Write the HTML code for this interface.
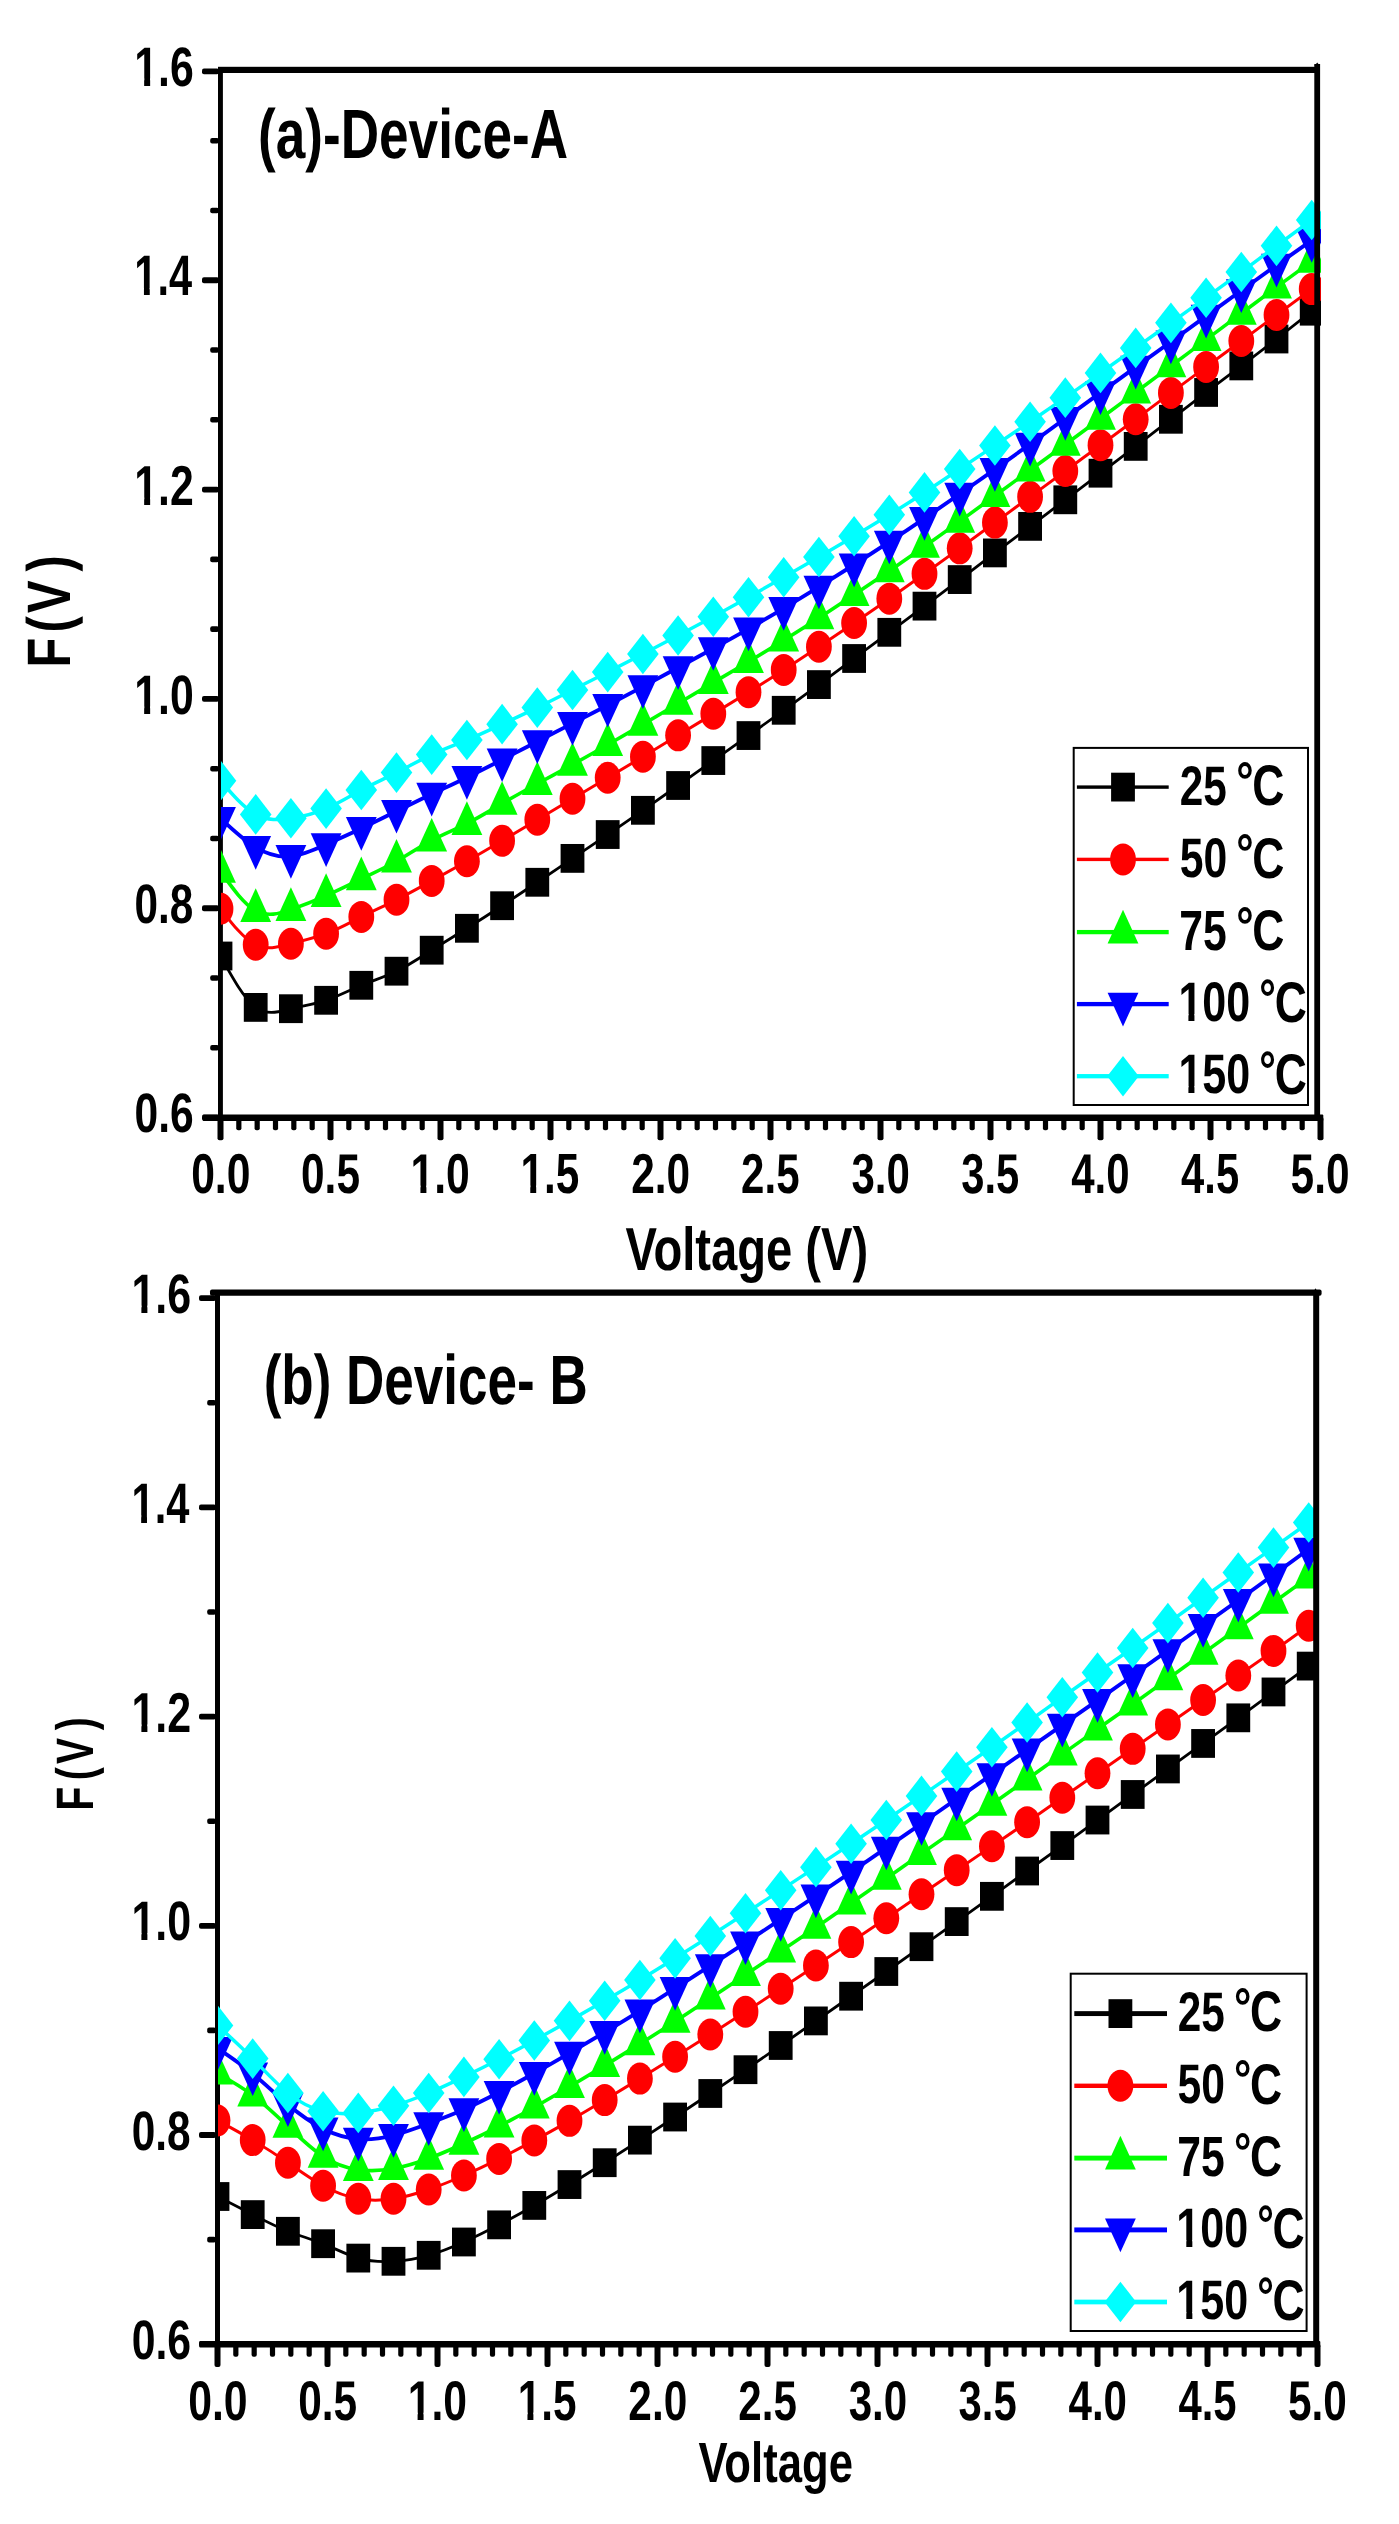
<!DOCTYPE html>
<html><head><meta charset="utf-8"><title>F(V) vs Voltage</title>
<style>html,body{margin:0;padding:0;background:#fff;overflow:hidden}svg{display:block;will-change:transform}text{white-space:pre}</style></head>
<body>
<svg width="1399" height="2524" viewBox="0 0 1399 2524" font-family="'Liberation Sans', sans-serif" font-weight="bold" fill="#000" text-rendering="geometricPrecision">
<defs><clipPath id="ca"><rect x="220.9" y="60" width="1100.1" height="1060"/></clipPath><clipPath id="cb"><rect x="218" y="1285" width="1099" height="1060"/></clipPath></defs>
<rect width="1399" height="2524" fill="#fff"/>
<g><rect x="218" y="67" width="4.9" height="1054"/><rect x="202.6" y="1114.4" width="1120.7" height="6.5" rx="1"/><rect x="202" y="1114.7" width="17" height="5.8" rx="2"/><rect x="210.2" y="1045.02" width="8.8" height="5.6" rx="2"/><rect x="210.2" y="975.24" width="8.8" height="5.6" rx="2"/><rect x="202" y="905.36" width="17" height="5.8" rx="2"/><rect x="210.2" y="835.68" width="8.8" height="5.6" rx="2"/><rect x="210.2" y="765.9" width="8.8" height="5.6" rx="2"/><rect x="202" y="696.02" width="17" height="5.8" rx="2"/><rect x="210.2" y="626.34" width="8.8" height="5.6" rx="2"/><rect x="210.2" y="556.56" width="8.8" height="5.6" rx="2"/><rect x="202" y="486.68" width="17" height="5.8" rx="2"/><rect x="210.2" y="417" width="8.8" height="5.6" rx="2"/><rect x="210.2" y="347.22" width="8.8" height="5.6" rx="2"/><rect x="202" y="277.34" width="17" height="5.8" rx="2"/><rect x="210.2" y="207.66" width="8.8" height="5.6" rx="2"/><rect x="210.2" y="137.88" width="8.8" height="5.6" rx="2"/><rect x="202" y="68.5" width="17" height="5.8" rx="2"/><rect x="217.5" y="1117" width="6" height="23.3" rx="2"/><rect x="236.23" y="1117" width="5.2" height="13.3" rx="2"/><rect x="254.57" y="1117" width="5.2" height="13.3" rx="2"/><rect x="272.9" y="1117" width="5.2" height="13.3" rx="2"/><rect x="291.23" y="1117" width="5.2" height="13.3" rx="2"/><rect x="309.57" y="1117" width="5.2" height="13.3" rx="2"/><rect x="327.5" y="1117" width="6" height="23.3" rx="2"/><rect x="346.23" y="1117" width="5.2" height="13.3" rx="2"/><rect x="364.57" y="1117" width="5.2" height="13.3" rx="2"/><rect x="382.9" y="1117" width="5.2" height="13.3" rx="2"/><rect x="401.23" y="1117" width="5.2" height="13.3" rx="2"/><rect x="419.57" y="1117" width="5.2" height="13.3" rx="2"/><rect x="437.5" y="1117" width="6" height="23.3" rx="2"/><rect x="456.23" y="1117" width="5.2" height="13.3" rx="2"/><rect x="474.57" y="1117" width="5.2" height="13.3" rx="2"/><rect x="492.9" y="1117" width="5.2" height="13.3" rx="2"/><rect x="511.23" y="1117" width="5.2" height="13.3" rx="2"/><rect x="529.57" y="1117" width="5.2" height="13.3" rx="2"/><rect x="547.5" y="1117" width="6" height="23.3" rx="2"/><rect x="566.23" y="1117" width="5.2" height="13.3" rx="2"/><rect x="584.57" y="1117" width="5.2" height="13.3" rx="2"/><rect x="602.9" y="1117" width="5.2" height="13.3" rx="2"/><rect x="621.23" y="1117" width="5.2" height="13.3" rx="2"/><rect x="639.57" y="1117" width="5.2" height="13.3" rx="2"/><rect x="657.5" y="1117" width="6" height="23.3" rx="2"/><rect x="676.23" y="1117" width="5.2" height="13.3" rx="2"/><rect x="694.57" y="1117" width="5.2" height="13.3" rx="2"/><rect x="712.9" y="1117" width="5.2" height="13.3" rx="2"/><rect x="731.23" y="1117" width="5.2" height="13.3" rx="2"/><rect x="749.57" y="1117" width="5.2" height="13.3" rx="2"/><rect x="767.5" y="1117" width="6" height="23.3" rx="2"/><rect x="786.23" y="1117" width="5.2" height="13.3" rx="2"/><rect x="804.57" y="1117" width="5.2" height="13.3" rx="2"/><rect x="822.9" y="1117" width="5.2" height="13.3" rx="2"/><rect x="841.23" y="1117" width="5.2" height="13.3" rx="2"/><rect x="859.57" y="1117" width="5.2" height="13.3" rx="2"/><rect x="877.5" y="1117" width="6" height="23.3" rx="2"/><rect x="896.23" y="1117" width="5.2" height="13.3" rx="2"/><rect x="914.57" y="1117" width="5.2" height="13.3" rx="2"/><rect x="932.9" y="1117" width="5.2" height="13.3" rx="2"/><rect x="951.23" y="1117" width="5.2" height="13.3" rx="2"/><rect x="969.57" y="1117" width="5.2" height="13.3" rx="2"/><rect x="987.5" y="1117" width="6" height="23.3" rx="2"/><rect x="1006.23" y="1117" width="5.2" height="13.3" rx="2"/><rect x="1024.57" y="1117" width="5.2" height="13.3" rx="2"/><rect x="1042.9" y="1117" width="5.2" height="13.3" rx="2"/><rect x="1061.23" y="1117" width="5.2" height="13.3" rx="2"/><rect x="1079.57" y="1117" width="5.2" height="13.3" rx="2"/><rect x="1097.5" y="1117" width="6" height="23.3" rx="2"/><rect x="1116.23" y="1117" width="5.2" height="13.3" rx="2"/><rect x="1134.57" y="1117" width="5.2" height="13.3" rx="2"/><rect x="1152.9" y="1117" width="5.2" height="13.3" rx="2"/><rect x="1171.23" y="1117" width="5.2" height="13.3" rx="2"/><rect x="1189.57" y="1117" width="5.2" height="13.3" rx="2"/><rect x="1207.5" y="1117" width="6" height="23.3" rx="2"/><rect x="1226.23" y="1117" width="5.2" height="13.3" rx="2"/><rect x="1244.57" y="1117" width="5.2" height="13.3" rx="2"/><rect x="1262.9" y="1117" width="5.2" height="13.3" rx="2"/><rect x="1281.23" y="1117" width="5.2" height="13.3" rx="2"/><rect x="1299.57" y="1117" width="5.2" height="13.3" rx="2"/><rect x="1317.5" y="1117" width="6" height="23.3" rx="2"/></g>
<g clip-path="url(#ca)"><g fill="#000000" stroke="none">
<path d="M220.5 956C232.23 977.42 243.97 998.85 255.7 1007.4C267.43 1015.95 279.17 1011.64 290.9 1008.7C302.63 1005.76 314.37 1004.2 326.1 1000.3C337.83 996.4 349.57 990.18 361.3 985.3C373.03 980.42 384.77 976.89 396.5 971.2C408.23 965.51 419.97 957.67 431.7 950.2C443.43 942.73 455.17 935.63 466.9 928.3C478.63 920.97 490.37 913.42 502.1 905.73C513.83 898.04 525.57 890.21 537.3 882.28C549.03 874.36 560.77 866.35 572.5 858.39C584.23 850.43 595.97 842.52 607.7 834.54C619.43 826.56 631.17 818.51 642.9 810.32C654.63 802.13 666.37 793.82 678.1 785.5C689.83 777.18 701.57 768.87 713.3 760.55C725.03 752.24 736.77 743.92 748.5 735.56C760.23 727.19 771.97 718.78 783.7 710.29C795.43 701.8 807.17 693.24 818.9 684.59C830.63 675.95 842.37 667.22 854.1 658.5C865.83 649.77 877.57 641.04 889.3 632.32C901.03 623.61 912.77 614.91 924.5 606.13C936.23 597.34 947.97 588.47 959.7 579.58C971.43 570.69 983.17 561.78 994.9 552.91C1006.63 544.04 1018.37 535.21 1030.1 526.37C1041.83 517.52 1053.57 508.65 1065.3 499.8C1077.03 490.94 1088.77 482.09 1100.5 473.2C1112.23 464.31 1123.97 455.38 1135.7 446.38C1147.43 437.38 1159.17 428.3 1170.9 419.28C1182.63 410.27 1194.37 401.31 1206.1 392.44C1217.83 383.56 1229.57 374.78 1241.3 365.92C1253.03 357.06 1264.77 348.13 1276.5 339C1288.23 329.86 1299.97 320.53 1311.7 311.2" fill="none" stroke="#000000" stroke-width="2.8" stroke-linejoin="round"/>
<rect x="208.6" y="941.6" width="23.8" height="28.8"/><rect x="243.8" y="993" width="23.8" height="28.8"/><rect x="279" y="994.3" width="23.8" height="28.8"/><rect x="314.2" y="985.9" width="23.8" height="28.8"/><rect x="349.4" y="970.9" width="23.8" height="28.8"/><rect x="384.6" y="956.8" width="23.8" height="28.8"/><rect x="419.8" y="935.8" width="23.8" height="28.8"/><rect x="455" y="913.9" width="23.8" height="28.8"/><rect x="490.2" y="891.33" width="23.8" height="28.8"/><rect x="525.4" y="867.88" width="23.8" height="28.8"/><rect x="560.6" y="843.99" width="23.8" height="28.8"/><rect x="595.8" y="820.14" width="23.8" height="28.8"/><rect x="631" y="795.92" width="23.8" height="28.8"/><rect x="666.2" y="771.1" width="23.8" height="28.8"/><rect x="701.4" y="746.15" width="23.8" height="28.8"/><rect x="736.6" y="721.16" width="23.8" height="28.8"/><rect x="771.8" y="695.89" width="23.8" height="28.8"/><rect x="807" y="670.19" width="23.8" height="28.8"/><rect x="842.2" y="644.1" width="23.8" height="28.8"/><rect x="877.4" y="617.92" width="23.8" height="28.8"/><rect x="912.6" y="591.73" width="23.8" height="28.8"/><rect x="947.8" y="565.18" width="23.8" height="28.8"/><rect x="983" y="538.51" width="23.8" height="28.8"/><rect x="1018.2" y="511.97" width="23.8" height="28.8"/><rect x="1053.4" y="485.4" width="23.8" height="28.8"/><rect x="1088.6" y="458.8" width="23.8" height="28.8"/><rect x="1123.8" y="431.98" width="23.8" height="28.8"/><rect x="1159" y="404.88" width="23.8" height="28.8"/><rect x="1194.2" y="378.04" width="23.8" height="28.8"/><rect x="1229.4" y="351.52" width="23.8" height="28.8"/><rect x="1264.6" y="324.6" width="23.8" height="28.8"/><rect x="1299.8" y="296.8" width="23.8" height="28.8"/>
</g>
<g fill="#ff0000" stroke="none">
<path d="M220.5 908.8C232.23 923.94 243.97 939.09 255.7 944.8C267.43 950.51 279.17 946.79 290.9 943.7C302.63 940.61 314.37 938.16 326.1 933.7C337.83 929.24 349.57 922.79 361.3 916.9C373.03 911.01 384.77 905.7 396.5 899.8C408.23 893.9 419.97 887.41 431.7 880.9C443.43 874.39 455.17 867.87 466.9 861.2C478.63 854.53 490.37 847.7 502.1 840.77C513.83 833.83 525.57 826.8 537.3 819.78C549.03 812.76 560.77 805.76 572.5 798.77C584.23 791.78 595.97 784.81 607.7 777.81C619.43 770.82 631.17 763.81 642.9 756.73C654.63 749.65 666.37 742.51 678.1 735.34C689.83 728.18 701.57 720.99 713.3 713.81C725.03 706.63 736.77 699.47 748.5 692.18C760.23 684.88 771.97 677.46 783.7 669.89C795.43 662.32 807.17 654.61 818.9 646.78C830.63 638.95 842.37 631 854.1 622.97C865.83 614.95 877.57 606.84 889.3 598.66C901.03 590.48 912.77 582.22 924.5 573.83C936.23 565.43 947.97 556.9 959.7 548.34C971.43 539.78 983.17 531.2 994.9 522.61C1006.63 514.02 1018.37 505.44 1030.1 496.83C1041.83 488.21 1053.57 479.57 1065.3 470.97C1077.03 462.36 1088.77 453.79 1100.5 445.18C1112.23 436.57 1123.97 427.93 1135.7 419.2C1147.43 410.47 1159.17 401.65 1170.9 392.91C1182.63 384.17 1194.37 375.51 1206.1 366.88C1217.83 358.25 1229.57 349.66 1241.3 341.02C1253.03 332.37 1264.77 323.67 1276.5 315.01C1288.23 306.35 1299.97 297.72 1311.7 289.1" fill="none" stroke="#ff0000" stroke-width="3.0" stroke-linejoin="round"/>
<ellipse cx="220.5" cy="908.8" rx="12.9" ry="16"/><ellipse cx="255.7" cy="944.8" rx="12.9" ry="16"/><ellipse cx="290.9" cy="943.7" rx="12.9" ry="16"/><ellipse cx="326.1" cy="933.7" rx="12.9" ry="16"/><ellipse cx="361.3" cy="916.9" rx="12.9" ry="16"/><ellipse cx="396.5" cy="899.8" rx="12.9" ry="16"/><ellipse cx="431.7" cy="880.9" rx="12.9" ry="16"/><ellipse cx="466.9" cy="861.2" rx="12.9" ry="16"/><ellipse cx="502.1" cy="840.77" rx="12.9" ry="16"/><ellipse cx="537.3" cy="819.78" rx="12.9" ry="16"/><ellipse cx="572.5" cy="798.77" rx="12.9" ry="16"/><ellipse cx="607.7" cy="777.81" rx="12.9" ry="16"/><ellipse cx="642.9" cy="756.73" rx="12.9" ry="16"/><ellipse cx="678.1" cy="735.34" rx="12.9" ry="16"/><ellipse cx="713.3" cy="713.81" rx="12.9" ry="16"/><ellipse cx="748.5" cy="692.18" rx="12.9" ry="16"/><ellipse cx="783.7" cy="669.89" rx="12.9" ry="16"/><ellipse cx="818.9" cy="646.78" rx="12.9" ry="16"/><ellipse cx="854.1" cy="622.97" rx="12.9" ry="16"/><ellipse cx="889.3" cy="598.66" rx="12.9" ry="16"/><ellipse cx="924.5" cy="573.83" rx="12.9" ry="16"/><ellipse cx="959.7" cy="548.34" rx="12.9" ry="16"/><ellipse cx="994.9" cy="522.61" rx="12.9" ry="16"/><ellipse cx="1030.1" cy="496.83" rx="12.9" ry="16"/><ellipse cx="1065.3" cy="470.97" rx="12.9" ry="16"/><ellipse cx="1100.5" cy="445.18" rx="12.9" ry="16"/><ellipse cx="1135.7" cy="419.2" rx="12.9" ry="16"/><ellipse cx="1170.9" cy="392.91" rx="12.9" ry="16"/><ellipse cx="1206.1" cy="366.88" rx="12.9" ry="16"/><ellipse cx="1241.3" cy="341.02" rx="12.9" ry="16"/><ellipse cx="1276.5" cy="315.01" rx="12.9" ry="16"/><ellipse cx="1311.7" cy="289.1" rx="12.9" ry="16"/>
</g>
<g fill="#00ff00" stroke="none">
<path d="M220.5 871.4C232.23 887.82 243.97 904.24 255.7 910.7C267.43 917.16 279.17 913.68 290.9 909.6C302.63 905.52 314.37 900.86 326.1 895.6C337.83 890.34 349.57 884.49 361.3 878.9C373.03 873.31 384.77 867.98 396.5 861.3C408.23 854.62 419.97 846.58 431.7 840.3C443.43 834.02 455.17 829.49 466.9 823.6C478.63 817.71 490.37 810.46 502.1 803.57C513.83 796.67 525.57 790.14 537.3 783.73C549.03 777.32 560.77 771.03 572.5 764.57C584.23 758.11 595.97 751.49 607.7 744.79C619.43 738.09 631.17 731.32 642.9 724.4C654.63 717.49 666.37 710.44 678.1 703.44C689.83 696.45 701.57 689.51 713.3 682.61C725.03 675.7 736.77 668.83 748.5 661.77C760.23 654.72 771.97 647.48 783.7 640.17C795.43 632.85 807.17 625.46 818.9 617.91C830.63 610.35 842.37 602.64 854.1 594.8C865.83 586.95 877.57 578.98 889.3 570.94C901.03 562.9 912.77 554.8 924.5 546.55C936.23 538.3 947.97 529.91 959.7 521.39C971.43 512.88 983.17 504.26 994.9 495.68C1006.63 487.11 1018.37 478.59 1030.1 470.1C1041.83 461.61 1053.57 453.15 1065.3 444.57C1077.03 435.99 1088.77 427.29 1100.5 418.56C1112.23 409.82 1123.97 401.06 1135.7 392.3C1147.43 383.54 1159.17 374.78 1170.9 366.01C1182.63 357.24 1194.37 348.45 1206.1 339.68C1217.83 330.9 1229.57 322.14 1241.3 313.37C1253.03 304.6 1264.77 295.82 1276.5 287.16C1288.23 278.5 1299.97 269.95 1311.7 261.4" fill="none" stroke="#00ff00" stroke-width="3.6" stroke-linejoin="round"/>
<path d="M220.5 849L235.9 882.7H205.1Z"/><path d="M255.7 888.3L271.1 922H240.3Z"/><path d="M290.9 887.2L306.3 920.9H275.5Z"/><path d="M326.1 873.2L341.5 906.9H310.7Z"/><path d="M361.3 856.5L376.7 890.2H345.9Z"/><path d="M396.5 838.9L411.9 872.6H381.1Z"/><path d="M431.7 817.9L447.1 851.6H416.3Z"/><path d="M466.9 801.2L482.3 834.9H451.5Z"/><path d="M502.1 781.17L517.5 814.87H486.7Z"/><path d="M537.3 761.33L552.7 795.03H521.9Z"/><path d="M572.5 742.17L587.9 775.87H557.1Z"/><path d="M607.7 722.39L623.1 756.09H592.3Z"/><path d="M642.9 702L658.3 735.7H627.5Z"/><path d="M678.1 681.04L693.5 714.74H662.7Z"/><path d="M713.3 660.21L728.7 693.91H697.9Z"/><path d="M748.5 639.38L763.9 673.07H733.1Z"/><path d="M783.7 617.77L799.1 651.47H768.3Z"/><path d="M818.9 595.51L834.3 629.21H803.5Z"/><path d="M854.1 572.4L869.5 606.1H838.7Z"/><path d="M889.3 548.54L904.7 582.24H873.9Z"/><path d="M924.5 524.15L939.9 557.85H909.1Z"/><path d="M959.7 498.99L975.1 532.69H944.3Z"/><path d="M994.9 473.28L1010.3 506.98H979.5Z"/><path d="M1030.1 447.7L1045.5 481.4H1014.7Z"/><path d="M1065.3 422.17L1080.7 455.87H1049.9Z"/><path d="M1100.5 396.16L1115.9 429.86H1085.1Z"/><path d="M1135.7 369.9L1151.1 403.6H1120.3Z"/><path d="M1170.9 343.61L1186.3 377.31H1155.5Z"/><path d="M1206.1 317.28L1221.5 350.98H1190.7Z"/><path d="M1241.3 290.97L1256.7 324.67H1225.9Z"/><path d="M1276.5 264.76L1291.9 298.46H1261.1Z"/><path d="M1311.7 239L1327.1 272.7H1296.3Z"/>
</g>
<g fill="#0000ff" stroke="none">
<path d="M220.5 818.3C232.23 829.28 243.97 840.26 255.7 847.3C267.43 854.34 279.17 857.43 290.9 856.3C302.63 855.17 314.37 849.8 326.1 844.5C337.83 839.2 349.57 833.95 361.3 828.4C373.03 822.85 384.77 816.99 396.5 811.2C408.23 805.41 419.97 799.68 431.7 794.1C443.43 788.52 455.17 783.1 466.9 777.4C478.63 771.7 490.37 765.73 502.1 759.7C513.83 753.68 525.57 747.6 537.3 741.53C549.03 735.46 560.77 729.39 572.5 723.36C584.23 717.32 595.97 711.31 607.7 705.21C619.43 699.1 631.17 692.91 642.9 686.61C654.63 680.32 666.37 673.92 678.1 667.56C689.83 661.2 701.57 654.87 713.3 648.44C725.03 642.01 736.77 635.5 748.5 628.82C760.23 622.14 771.97 615.3 783.7 608.32C795.43 601.34 807.17 594.22 818.9 586.95C830.63 579.67 842.37 572.25 854.1 564.75C865.83 557.25 877.57 549.68 889.3 541.95C901.03 534.22 912.77 526.34 924.5 518.33C936.23 510.31 947.97 502.17 959.7 494C971.43 485.83 983.17 477.64 994.9 469.33C1006.63 461.03 1018.37 452.61 1030.1 444.11C1041.83 435.6 1053.57 427 1065.3 418.39C1077.03 409.77 1088.77 401.14 1100.5 392.59C1112.23 384.03 1123.97 375.56 1135.7 367.11C1147.43 358.67 1159.17 350.26 1170.9 341.77C1182.63 333.28 1194.37 324.71 1206.1 316.14C1217.83 307.58 1229.57 299.02 1241.3 290.5C1253.03 281.97 1264.77 273.47 1276.5 265.12C1288.23 256.78 1299.97 248.59 1311.7 240.4" fill="none" stroke="#0000ff" stroke-width="3.9" stroke-linejoin="round"/>
<path d="M220.5 840.7L235.9 807H205.1Z"/><path d="M255.7 869.7L271.1 836H240.3Z"/><path d="M290.9 878.7L306.3 845H275.5Z"/><path d="M326.1 866.9L341.5 833.2H310.7Z"/><path d="M361.3 850.8L376.7 817.1H345.9Z"/><path d="M396.5 833.6L411.9 799.9H381.1Z"/><path d="M431.7 816.5L447.1 782.8H416.3Z"/><path d="M466.9 799.8L482.3 766.1H451.5Z"/><path d="M502.1 782.1L517.5 748.4H486.7Z"/><path d="M537.3 763.93L552.7 730.23H521.9Z"/><path d="M572.5 745.76L587.9 712.06H557.1Z"/><path d="M607.7 727.61L623.1 693.91H592.3Z"/><path d="M642.9 709.01L658.3 675.31H627.5Z"/><path d="M678.1 689.96L693.5 656.26H662.7Z"/><path d="M713.3 670.84L728.7 637.14H697.9Z"/><path d="M748.5 651.22L763.9 617.52H733.1Z"/><path d="M783.7 630.72L799.1 597.02H768.3Z"/><path d="M818.9 609.35L834.3 575.65H803.5Z"/><path d="M854.1 587.15L869.5 553.45H838.7Z"/><path d="M889.3 564.35L904.7 530.65H873.9Z"/><path d="M924.5 540.73L939.9 507.03H909.1Z"/><path d="M959.7 516.4L975.1 482.7H944.3Z"/><path d="M994.9 491.73L1010.3 458.03H979.5Z"/><path d="M1030.1 466.51L1045.5 432.81H1014.7Z"/><path d="M1065.3 440.79L1080.7 407.09H1049.9Z"/><path d="M1100.5 414.99L1115.9 381.29H1085.1Z"/><path d="M1135.7 389.51L1151.1 355.81H1120.3Z"/><path d="M1170.9 364.17L1186.3 330.47H1155.5Z"/><path d="M1206.1 338.54L1221.5 304.84H1190.7Z"/><path d="M1241.3 312.9L1256.7 279.2H1225.9Z"/><path d="M1276.5 287.52L1291.9 253.82H1261.1Z"/><path d="M1311.7 262.8L1327.1 229.1H1296.3Z"/>
</g>
<g fill="#00ffff" stroke="none">
<path d="M220.5 780.7C232.23 794.33 243.97 807.96 255.7 814.4C267.43 820.84 279.17 820.09 290.9 818.3C302.63 816.51 314.37 813.66 326.1 808.6C337.83 803.54 349.57 796.25 361.3 790C373.03 783.75 384.77 778.52 396.5 772.6C408.23 766.68 419.97 760.05 431.7 754.6C443.43 749.15 455.17 744.88 466.9 740C478.63 735.12 490.37 729.63 502.1 724.17C513.83 718.71 525.57 713.29 537.3 707.61C549.03 701.93 560.77 695.99 572.5 690.03C584.23 684.07 595.97 678.08 607.7 672.08C619.43 666.07 631.17 660.04 642.9 653.94C654.63 647.85 666.37 641.69 678.1 635.49C689.83 629.29 701.57 623.05 713.3 616.68C725.03 610.31 736.77 603.8 748.5 597.23C760.23 590.65 771.97 584.02 783.7 577.32C795.43 570.62 807.17 563.84 818.9 556.99C830.63 550.14 842.37 543.21 854.1 536.21C865.83 529.21 877.57 522.13 889.3 514.85C901.03 507.57 912.77 500.08 924.5 492.42C936.23 484.76 947.97 476.92 959.7 469.06C971.43 461.2 983.17 453.31 994.9 445.43C1006.63 437.55 1018.37 429.69 1030.1 421.75C1041.83 413.81 1053.57 405.8 1065.3 397.64C1077.03 389.49 1088.77 381.2 1100.5 372.89C1112.23 364.57 1123.97 356.22 1135.7 347.88C1147.43 339.54 1159.17 331.2 1170.9 322.85C1182.63 314.5 1194.37 306.14 1206.1 297.69C1217.83 289.25 1229.57 280.72 1241.3 272.04C1253.03 263.36 1264.77 254.53 1276.5 245.83C1288.23 237.13 1299.97 228.57 1311.7 220" fill="none" stroke="#00ffff" stroke-width="3.5" stroke-linejoin="round"/>
<path d="M220.5 760.4L236.3 780.7L220.5 801L204.7 780.7Z"/><path d="M255.7 794.1L271.5 814.4L255.7 834.7L239.9 814.4Z"/><path d="M290.9 798L306.7 818.3L290.9 838.6L275.1 818.3Z"/><path d="M326.1 788.3L341.9 808.6L326.1 828.9L310.3 808.6Z"/><path d="M361.3 769.7L377.1 790L361.3 810.3L345.5 790Z"/><path d="M396.5 752.3L412.3 772.6L396.5 792.9L380.7 772.6Z"/><path d="M431.7 734.3L447.5 754.6L431.7 774.9L415.9 754.6Z"/><path d="M466.9 719.7L482.7 740L466.9 760.3L451.1 740Z"/><path d="M502.1 703.87L517.9 724.17L502.1 744.47L486.3 724.17Z"/><path d="M537.3 687.31L553.1 707.61L537.3 727.91L521.5 707.61Z"/><path d="M572.5 669.73L588.3 690.03L572.5 710.33L556.7 690.03Z"/><path d="M607.7 651.78L623.5 672.08L607.7 692.38L591.9 672.08Z"/><path d="M642.9 633.64L658.7 653.94L642.9 674.24L627.1 653.94Z"/><path d="M678.1 615.19L693.9 635.49L678.1 655.79L662.3 635.49Z"/><path d="M713.3 596.38L729.1 616.68L713.3 636.98L697.5 616.68Z"/><path d="M748.5 576.93L764.3 597.23L748.5 617.53L732.7 597.23Z"/><path d="M783.7 557.02L799.5 577.32L783.7 597.62L767.9 577.32Z"/><path d="M818.9 536.69L834.7 556.99L818.9 577.29L803.1 556.99Z"/><path d="M854.1 515.91L869.9 536.21L854.1 556.51L838.3 536.21Z"/><path d="M889.3 494.55L905.1 514.85L889.3 535.15L873.5 514.85Z"/><path d="M924.5 472.12L940.3 492.42L924.5 512.72L908.7 492.42Z"/><path d="M959.7 448.76L975.5 469.06L959.7 489.36L943.9 469.06Z"/><path d="M994.9 425.13L1010.7 445.43L994.9 465.73L979.1 445.43Z"/><path d="M1030.1 401.45L1045.9 421.75L1030.1 442.05L1014.3 421.75Z"/><path d="M1065.3 377.34L1081.1 397.64L1065.3 417.94L1049.5 397.64Z"/><path d="M1100.5 352.59L1116.3 372.89L1100.5 393.19L1084.7 372.89Z"/><path d="M1135.7 327.58L1151.5 347.88L1135.7 368.18L1119.9 347.88Z"/><path d="M1170.9 302.55L1186.7 322.85L1170.9 343.15L1155.1 322.85Z"/><path d="M1206.1 277.39L1221.9 297.69L1206.1 317.99L1190.3 297.69Z"/><path d="M1241.3 251.74L1257.1 272.04L1241.3 292.34L1225.5 272.04Z"/><path d="M1276.5 225.53L1292.3 245.83L1276.5 266.13L1260.7 245.83Z"/><path d="M1311.7 199.7L1327.5 220L1311.7 240.3L1295.9 220Z"/>
</g></g>
<rect x="1073.7" y="747.9" width="234.3" height="357.1" fill="#fff" stroke="#000" stroke-width="2"/>
<g fill="#000000"><rect x="1076.9" y="785.4" width="91.8" height="3.4"/><rect x="1111.1" y="772.7" width="23.8" height="28.8"/></g>
<g transform="translate(1179.73,805.04) scale(0.4229,0.5577)"><text font-size="100" >25</text></g>
<g transform="translate(1236.16,800.16) scale(0.4344,0.5452)"><text font-size="100" >°</text></g>
<g transform="translate(1252.22,805.43) scale(0.4446,0.5746)"><text font-size="100" >C</text></g>
<g fill="#ff0000"><rect x="1076.9" y="857.7" width="91.8" height="3.4"/><ellipse cx="1123" cy="859.4" rx="12.9" ry="16"/></g>
<g transform="translate(1179.72,877.34) scale(0.4269,0.5577)"><text font-size="100" >50</text></g>
<g transform="translate(1236.16,872.46) scale(0.4344,0.5452)"><text font-size="100" >°</text></g>
<g transform="translate(1252.22,877.73) scale(0.4446,0.5746)"><text font-size="100" >C</text></g>
<g fill="#00ff00"><rect x="1076.9" y="929.95" width="91.8" height="4.3"/><path d="M1123 909.7L1138.4 943.4H1107.6Z"/></g>
<g transform="translate(1179.29,949.63) scale(0.4269,0.5657)"><text font-size="100" >75</text></g>
<g transform="translate(1236.16,944.76) scale(0.4344,0.5452)"><text font-size="100" >°</text></g>
<g transform="translate(1252.22,950.03) scale(0.4446,0.5746)"><text font-size="100" >C</text></g>
<g fill="#0000ff"><rect x="1076.9" y="1001.95" width="91.8" height="4.3"/><path d="M1123 1026.5L1138.4 992.8H1107.6Z"/></g>
<g transform="translate(1178.42,1021.34) scale(0.4306,0.5577)"><text font-size="100" >100</text><rect x="3" y="-13" width="20.2" height="15" fill="#fff"/><rect x="37.2" y="-13" width="18.5" height="15" fill="#fff"/></g>
<g transform="translate(1259.34,1016.94) scale(0.4156,0.5419)"><text font-size="100" >°</text></g>
<g transform="translate(1274.72,1021.73) scale(0.4446,0.5746)"><text font-size="100" >C</text></g>
<g fill="#00ffff"><rect x="1076.9" y="1074.05" width="91.8" height="4.3"/><path d="M1123 1055.9L1138.8 1076.2L1123 1096.5L1107.2 1076.2Z"/></g>
<g transform="translate(1178.42,1093.34) scale(0.4306,0.5577)"><text font-size="100" >150</text><rect x="3" y="-13" width="20.2" height="15" fill="#fff"/><rect x="37.2" y="-13" width="18.5" height="15" fill="#fff"/></g>
<g transform="translate(1259.34,1088.94) scale(0.4156,0.5419)"><text font-size="100" >°</text></g>
<g transform="translate(1274.72,1093.73) scale(0.4446,0.5746)"><text font-size="100" >C</text></g>
<g><rect x="218" y="66.8" width="1102" height="6.2"/><rect x="1314.3" y="64" width="5.8" height="1057"/><path d="M1314.3 66 L1317.2 62.5 L1320.1 66Z"/></g>
<g transform="translate(191.14,1192.84) scale(0.4267,0.5606)"><text font-size="100" >0.0</text></g>
<g transform="translate(301.06,1192.84) scale(0.4235,0.5606)"><text font-size="100" >0.5</text></g>
<g transform="translate(410.54,1192.84) scale(0.4264,0.5606)"><text font-size="100" >1.0</text><rect x="3" y="-13" width="20.2" height="15" fill="#fff"/><rect x="37.2" y="-13" width="18.5" height="15" fill="#fff"/></g>
<g transform="translate(520.46,1192.83) scale(0.4231,0.5686)"><text font-size="100" >1.5</text><rect x="3" y="-13" width="20.2" height="15" fill="#fff"/><rect x="37.2" y="-13" width="18.5" height="15" fill="#fff"/></g>
<g transform="translate(631.18,1192.84) scale(0.4235,0.5606)"><text font-size="100" >2.0</text></g>
<g transform="translate(741.09,1192.84) scale(0.4203,0.5606)"><text font-size="100" >2.5</text></g>
<g transform="translate(851.41,1192.84) scale(0.4203,0.5606)"><text font-size="100" >3.0</text></g>
<g transform="translate(961.32,1192.84) scale(0.4172,0.5606)"><text font-size="100" >3.5</text></g>
<g transform="translate(1071.21,1192.84) scale(0.4203,0.5606)"><text font-size="100" >4.0</text></g>
<g transform="translate(1181.12,1192.83) scale(0.4172,0.5686)"><text font-size="100" >4.5</text></g>
<g transform="translate(1290.58,1192.84) scale(0.4235,0.5606)"><text font-size="100" >5.0</text></g>
<g transform="translate(134.5,1132.25) scale(0.4260,0.5549)"><text font-size="100" >0.6</text></g>
<g transform="translate(134.51,922.91) scale(0.4227,0.5549)"><text font-size="100" >0.8</text></g>
<g transform="translate(134.23,713.57) scale(0.4279,0.5549)"><text font-size="100" >1.0</text><rect x="3" y="-13" width="20.2" height="15" fill="#fff"/><rect x="37.2" y="-13" width="18.5" height="15" fill="#fff"/></g>
<g transform="translate(134.23,504.78) scale(0.4279,0.5629)"><text font-size="100" >1.2</text><rect x="3" y="-13" width="20.2" height="15" fill="#fff"/><rect x="37.2" y="-13" width="18.5" height="15" fill="#fff"/></g>
<g transform="translate(134.31,295.44) scale(0.4150,0.5710)"><text font-size="100" >1.4</text><rect x="3" y="-13" width="20.2" height="15" fill="#fff"/><rect x="37.2" y="-13" width="18.5" height="15" fill="#fff"/></g>
<g transform="translate(134.23,85.55) scale(0.4279,0.5549)"><text font-size="100" >1.6</text><rect x="3" y="-13" width="20.2" height="15" fill="#fff"/><rect x="37.2" y="-13" width="18.5" height="15" fill="#fff"/></g>
<g transform="translate(257.94,157.9) scale(0.5317,0.6962)"><text font-size="100" >(a)-Device-A</text></g>
<g transform="translate(625.53,1269.8) scale(0.4713,0.6076)"><text font-size="100" >Voltage (V)</text></g>
<g transform="translate(70,667.62) rotate(-90) scale(0.4890,0.6134)"><text font-size="100" dx="0 0 -16.9 6.6 18.2">F (V)</text></g>
<g><rect x="215" y="1290" width="5" height="1057"/><rect x="199.3" y="2341" width="1121" height="6.4" rx="1"/><rect x="199" y="2341.3" width="17" height="5.8" rx="2"/><rect x="207.2" y="2236.8" width="8.8" height="5.6" rx="2"/><rect x="199" y="2132.1" width="17" height="5.8" rx="2"/><rect x="207.2" y="2027.6" width="8.8" height="5.6" rx="2"/><rect x="199" y="1922.9" width="17" height="5.8" rx="2"/><rect x="207.2" y="1818.4" width="8.8" height="5.6" rx="2"/><rect x="199" y="1713.7" width="17" height="5.8" rx="2"/><rect x="207.2" y="1609.2" width="8.8" height="5.6" rx="2"/><rect x="199" y="1504.5" width="17" height="5.8" rx="2"/><rect x="207.2" y="1400" width="8.8" height="5.6" rx="2"/><rect x="199" y="1295.3" width="17" height="5.8" rx="2"/><rect x="214.5" y="2344" width="6" height="23" rx="2"/><rect x="233.23" y="2344" width="5.2" height="12.8" rx="2"/><rect x="251.57" y="2344" width="5.2" height="12.8" rx="2"/><rect x="269.9" y="2344" width="5.2" height="12.8" rx="2"/><rect x="288.23" y="2344" width="5.2" height="12.8" rx="2"/><rect x="306.57" y="2344" width="5.2" height="12.8" rx="2"/><rect x="324.5" y="2344" width="6" height="23" rx="2"/><rect x="343.23" y="2344" width="5.2" height="12.8" rx="2"/><rect x="361.57" y="2344" width="5.2" height="12.8" rx="2"/><rect x="379.9" y="2344" width="5.2" height="12.8" rx="2"/><rect x="398.23" y="2344" width="5.2" height="12.8" rx="2"/><rect x="416.57" y="2344" width="5.2" height="12.8" rx="2"/><rect x="434.5" y="2344" width="6" height="23" rx="2"/><rect x="453.23" y="2344" width="5.2" height="12.8" rx="2"/><rect x="471.57" y="2344" width="5.2" height="12.8" rx="2"/><rect x="489.9" y="2344" width="5.2" height="12.8" rx="2"/><rect x="508.23" y="2344" width="5.2" height="12.8" rx="2"/><rect x="526.57" y="2344" width="5.2" height="12.8" rx="2"/><rect x="544.5" y="2344" width="6" height="23" rx="2"/><rect x="563.23" y="2344" width="5.2" height="12.8" rx="2"/><rect x="581.57" y="2344" width="5.2" height="12.8" rx="2"/><rect x="599.9" y="2344" width="5.2" height="12.8" rx="2"/><rect x="618.23" y="2344" width="5.2" height="12.8" rx="2"/><rect x="636.57" y="2344" width="5.2" height="12.8" rx="2"/><rect x="654.5" y="2344" width="6" height="23" rx="2"/><rect x="673.23" y="2344" width="5.2" height="12.8" rx="2"/><rect x="691.57" y="2344" width="5.2" height="12.8" rx="2"/><rect x="709.9" y="2344" width="5.2" height="12.8" rx="2"/><rect x="728.23" y="2344" width="5.2" height="12.8" rx="2"/><rect x="746.57" y="2344" width="5.2" height="12.8" rx="2"/><rect x="764.5" y="2344" width="6" height="23" rx="2"/><rect x="783.23" y="2344" width="5.2" height="12.8" rx="2"/><rect x="801.57" y="2344" width="5.2" height="12.8" rx="2"/><rect x="819.9" y="2344" width="5.2" height="12.8" rx="2"/><rect x="838.23" y="2344" width="5.2" height="12.8" rx="2"/><rect x="856.57" y="2344" width="5.2" height="12.8" rx="2"/><rect x="874.5" y="2344" width="6" height="23" rx="2"/><rect x="893.23" y="2344" width="5.2" height="12.8" rx="2"/><rect x="911.57" y="2344" width="5.2" height="12.8" rx="2"/><rect x="929.9" y="2344" width="5.2" height="12.8" rx="2"/><rect x="948.23" y="2344" width="5.2" height="12.8" rx="2"/><rect x="966.57" y="2344" width="5.2" height="12.8" rx="2"/><rect x="984.5" y="2344" width="6" height="23" rx="2"/><rect x="1003.23" y="2344" width="5.2" height="12.8" rx="2"/><rect x="1021.57" y="2344" width="5.2" height="12.8" rx="2"/><rect x="1039.9" y="2344" width="5.2" height="12.8" rx="2"/><rect x="1058.23" y="2344" width="5.2" height="12.8" rx="2"/><rect x="1076.57" y="2344" width="5.2" height="12.8" rx="2"/><rect x="1094.5" y="2344" width="6" height="23" rx="2"/><rect x="1113.23" y="2344" width="5.2" height="12.8" rx="2"/><rect x="1131.57" y="2344" width="5.2" height="12.8" rx="2"/><rect x="1149.9" y="2344" width="5.2" height="12.8" rx="2"/><rect x="1168.23" y="2344" width="5.2" height="12.8" rx="2"/><rect x="1186.57" y="2344" width="5.2" height="12.8" rx="2"/><rect x="1204.5" y="2344" width="6" height="23" rx="2"/><rect x="1223.23" y="2344" width="5.2" height="12.8" rx="2"/><rect x="1241.57" y="2344" width="5.2" height="12.8" rx="2"/><rect x="1259.9" y="2344" width="5.2" height="12.8" rx="2"/><rect x="1278.23" y="2344" width="5.2" height="12.8" rx="2"/><rect x="1296.57" y="2344" width="5.2" height="12.8" rx="2"/><rect x="1314.5" y="2344" width="6" height="23" rx="2"/></g>
<g clip-path="url(#cb)"><g fill="#000000" stroke="none">
<path d="M217.5 2196.5C229.23 2202.53 240.97 2208.55 252.7 2214.6C264.43 2220.65 276.17 2226.71 287.9 2231.3C299.63 2235.89 311.37 2239 323.1 2243.7C334.83 2248.4 346.57 2254.7 358.3 2258.1C370.03 2261.5 381.77 2262.02 393.5 2261.3C405.23 2260.58 416.97 2258.64 428.7 2255.3C440.43 2251.96 452.17 2247.24 463.9 2242C475.63 2236.76 487.37 2231 499.1 2224.85C510.83 2218.7 522.57 2212.17 534.3 2205.42C546.03 2198.68 557.77 2191.71 569.5 2184.57C581.23 2177.43 592.97 2170.11 604.7 2162.7C616.43 2155.28 628.17 2147.76 639.9 2140.14C651.63 2132.53 663.37 2124.81 675.1 2117.02C686.83 2109.23 698.57 2101.38 710.3 2093.49C722.03 2085.61 733.77 2077.69 745.5 2069.69C757.23 2061.7 768.97 2053.63 780.7 2045.49C792.43 2037.35 804.17 2029.14 815.9 2020.91C827.63 2012.69 839.37 2004.45 851.1 1996.21C862.83 1987.98 874.57 1979.76 886.3 1971.51C898.03 1963.27 909.77 1955.01 921.5 1946.69C933.23 1938.37 944.97 1929.99 956.7 1921.59C968.43 1913.18 980.17 1904.76 991.9 1896.33C1003.63 1887.91 1015.37 1879.47 1027.1 1871.01C1038.83 1862.55 1050.57 1854.06 1062.3 1845.56C1074.03 1837.06 1085.77 1828.55 1097.5 1820.03C1109.23 1811.52 1120.97 1803 1132.7 1794.48C1144.43 1785.96 1156.17 1777.45 1167.9 1768.95C1179.63 1760.45 1191.37 1751.96 1203.1 1743.45C1214.83 1734.94 1226.57 1726.42 1238.3 1717.83C1250.03 1709.24 1261.77 1700.58 1273.5 1691.95C1285.23 1683.32 1296.97 1674.71 1308.7 1666.1" fill="none" stroke="#000000" stroke-width="2.8" stroke-linejoin="round"/>
<rect x="205.6" y="2182.1" width="23.8" height="28.8"/><rect x="240.8" y="2200.2" width="23.8" height="28.8"/><rect x="276" y="2216.9" width="23.8" height="28.8"/><rect x="311.2" y="2229.3" width="23.8" height="28.8"/><rect x="346.4" y="2243.7" width="23.8" height="28.8"/><rect x="381.6" y="2246.9" width="23.8" height="28.8"/><rect x="416.8" y="2240.9" width="23.8" height="28.8"/><rect x="452" y="2227.6" width="23.8" height="28.8"/><rect x="487.2" y="2210.45" width="23.8" height="28.8"/><rect x="522.4" y="2191.02" width="23.8" height="28.8"/><rect x="557.6" y="2170.17" width="23.8" height="28.8"/><rect x="592.8" y="2148.3" width="23.8" height="28.8"/><rect x="628" y="2125.74" width="23.8" height="28.8"/><rect x="663.2" y="2102.62" width="23.8" height="28.8"/><rect x="698.4" y="2079.09" width="23.8" height="28.8"/><rect x="733.6" y="2055.29" width="23.8" height="28.8"/><rect x="768.8" y="2031.09" width="23.8" height="28.8"/><rect x="804" y="2006.51" width="23.8" height="28.8"/><rect x="839.2" y="1981.81" width="23.8" height="28.8"/><rect x="874.4" y="1957.11" width="23.8" height="28.8"/><rect x="909.6" y="1932.29" width="23.8" height="28.8"/><rect x="944.8" y="1907.19" width="23.8" height="28.8"/><rect x="980" y="1881.93" width="23.8" height="28.8"/><rect x="1015.2" y="1856.61" width="23.8" height="28.8"/><rect x="1050.4" y="1831.16" width="23.8" height="28.8"/><rect x="1085.6" y="1805.63" width="23.8" height="28.8"/><rect x="1120.8" y="1780.08" width="23.8" height="28.8"/><rect x="1156" y="1754.55" width="23.8" height="28.8"/><rect x="1191.2" y="1729.05" width="23.8" height="28.8"/><rect x="1226.4" y="1703.43" width="23.8" height="28.8"/><rect x="1261.6" y="1677.55" width="23.8" height="28.8"/><rect x="1296.8" y="1651.7" width="23.8" height="28.8"/>
</g>
<g fill="#ff0000" stroke="none">
<path d="M217.5 2120.4C229.23 2126.77 240.97 2133.13 252.7 2140.1C264.43 2147.07 276.17 2154.63 287.9 2162.7C299.63 2170.77 311.37 2179.33 323.1 2185.8C334.83 2192.27 346.57 2196.64 358.3 2198.7C370.03 2200.76 381.77 2200.5 393.5 2198.7C405.23 2196.9 416.97 2193.56 428.7 2189.5C440.43 2185.44 452.17 2180.67 463.9 2175.5C475.63 2170.33 487.37 2164.77 499.1 2158.88C510.83 2152.99 522.57 2146.78 534.3 2140.43C546.03 2134.08 557.77 2127.59 569.5 2120.86C581.23 2114.14 592.97 2107.18 604.7 2100.09C616.43 2093.01 628.17 2085.79 639.9 2078.57C651.63 2071.35 663.37 2064.12 675.1 2056.78C686.83 2049.43 698.57 2041.99 710.3 2034.48C722.03 2026.97 733.77 2019.41 745.5 2011.78C757.23 2004.16 768.97 1996.48 780.7 1988.76C792.43 1981.05 804.17 1973.29 815.9 1965.52C827.63 1957.74 839.37 1949.94 851.1 1942.07C862.83 1934.21 874.57 1926.28 886.3 1918.3C898.03 1910.32 909.77 1902.29 921.5 1894.25C933.23 1886.22 944.97 1878.18 956.7 1870.18C968.43 1862.18 980.17 1854.22 991.9 1846.24C1003.63 1838.25 1015.37 1830.24 1027.1 1822.14C1038.83 1814.05 1050.57 1805.87 1062.3 1797.7C1074.03 1789.52 1085.77 1781.34 1097.5 1773.2C1109.23 1765.06 1120.97 1756.95 1132.7 1748.83C1144.43 1740.7 1156.17 1732.56 1167.9 1724.41C1179.63 1716.26 1191.37 1708.11 1203.1 1699.96C1214.83 1691.81 1226.57 1683.67 1238.3 1675.52C1250.03 1667.36 1261.77 1659.21 1273.5 1650.92C1285.23 1642.63 1296.97 1634.22 1308.7 1625.8" fill="none" stroke="#ff0000" stroke-width="3.0" stroke-linejoin="round"/>
<ellipse cx="217.5" cy="2120.4" rx="12.9" ry="16"/><ellipse cx="252.7" cy="2140.1" rx="12.9" ry="16"/><ellipse cx="287.9" cy="2162.7" rx="12.9" ry="16"/><ellipse cx="323.1" cy="2185.8" rx="12.9" ry="16"/><ellipse cx="358.3" cy="2198.7" rx="12.9" ry="16"/><ellipse cx="393.5" cy="2198.7" rx="12.9" ry="16"/><ellipse cx="428.7" cy="2189.5" rx="12.9" ry="16"/><ellipse cx="463.9" cy="2175.5" rx="12.9" ry="16"/><ellipse cx="499.1" cy="2158.88" rx="12.9" ry="16"/><ellipse cx="534.3" cy="2140.43" rx="12.9" ry="16"/><ellipse cx="569.5" cy="2120.86" rx="12.9" ry="16"/><ellipse cx="604.7" cy="2100.09" rx="12.9" ry="16"/><ellipse cx="639.9" cy="2078.57" rx="12.9" ry="16"/><ellipse cx="675.1" cy="2056.78" rx="12.9" ry="16"/><ellipse cx="710.3" cy="2034.48" rx="12.9" ry="16"/><ellipse cx="745.5" cy="2011.78" rx="12.9" ry="16"/><ellipse cx="780.7" cy="1988.76" rx="12.9" ry="16"/><ellipse cx="815.9" cy="1965.52" rx="12.9" ry="16"/><ellipse cx="851.1" cy="1942.07" rx="12.9" ry="16"/><ellipse cx="886.3" cy="1918.3" rx="12.9" ry="16"/><ellipse cx="921.5" cy="1894.25" rx="12.9" ry="16"/><ellipse cx="956.7" cy="1870.18" rx="12.9" ry="16"/><ellipse cx="991.9" cy="1846.24" rx="12.9" ry="16"/><ellipse cx="1027.1" cy="1822.14" rx="12.9" ry="16"/><ellipse cx="1062.3" cy="1797.7" rx="12.9" ry="16"/><ellipse cx="1097.5" cy="1773.2" rx="12.9" ry="16"/><ellipse cx="1132.7" cy="1748.83" rx="12.9" ry="16"/><ellipse cx="1167.9" cy="1724.41" rx="12.9" ry="16"/><ellipse cx="1203.1" cy="1699.96" rx="12.9" ry="16"/><ellipse cx="1238.3" cy="1675.52" rx="12.9" ry="16"/><ellipse cx="1273.5" cy="1650.92" rx="12.9" ry="16"/><ellipse cx="1308.7" cy="1625.8" rx="12.9" ry="16"/>
</g>
<g fill="#00ff00" stroke="none">
<path d="M217.5 2073.2C229.23 2079.82 240.97 2086.44 252.7 2095.3C264.43 2104.16 276.17 2115.24 287.9 2126.4C299.63 2137.56 311.37 2148.78 323.1 2156.4C334.83 2164.02 346.57 2168.02 358.3 2169.7C370.03 2171.38 381.77 2170.72 393.5 2168.6C405.23 2166.48 416.97 2162.88 428.7 2158.5C440.43 2154.12 452.17 2148.94 463.9 2143.5C475.63 2138.06 487.37 2132.35 499.1 2126.3C510.83 2120.24 522.57 2113.85 534.3 2107.22C546.03 2100.59 557.77 2093.72 569.5 2086.76C581.23 2079.8 592.97 2072.75 604.7 2065.61C616.43 2058.47 628.17 2051.25 639.9 2043.9C651.63 2036.56 663.37 2029.08 675.1 2021.45C686.83 2013.82 698.57 2006.03 710.3 1998.22C722.03 1990.41 733.77 1982.57 745.5 1974.77C757.23 1966.96 768.97 1959.18 780.7 1951.31C792.43 1943.44 804.17 1935.47 815.9 1927.43C827.63 1919.39 839.37 1911.28 851.1 1903.1C862.83 1894.93 874.57 1886.69 886.3 1878.42C898.03 1870.16 909.77 1861.86 921.5 1853.62C933.23 1845.38 944.97 1837.21 956.7 1829.02C968.43 1820.83 980.17 1812.62 991.9 1804.34C1003.63 1796.05 1015.37 1787.7 1027.1 1779.31C1038.83 1770.92 1050.57 1762.51 1062.3 1754.13C1074.03 1745.75 1085.77 1737.41 1097.5 1729.1C1109.23 1720.79 1120.97 1712.52 1132.7 1704.17C1144.43 1695.82 1156.17 1687.38 1167.9 1678.89C1179.63 1670.4 1191.37 1661.86 1203.1 1653.36C1214.83 1644.86 1226.57 1636.4 1238.3 1627.91C1250.03 1619.42 1261.77 1610.9 1273.5 1602.43C1285.23 1593.96 1296.97 1585.53 1308.7 1577.1" fill="none" stroke="#00ff00" stroke-width="3.6" stroke-linejoin="round"/>
<path d="M217.5 2050.8L232.9 2084.5H202.1Z"/><path d="M252.7 2072.9L268.1 2106.6H237.3Z"/><path d="M287.9 2104L303.3 2137.7H272.5Z"/><path d="M323.1 2134L338.5 2167.7H307.7Z"/><path d="M358.3 2147.3L373.7 2181H342.9Z"/><path d="M393.5 2146.2L408.9 2179.9H378.1Z"/><path d="M428.7 2136.1L444.1 2169.8H413.3Z"/><path d="M463.9 2121.1L479.3 2154.8H448.5Z"/><path d="M499.1 2103.9L514.5 2137.6H483.7Z"/><path d="M534.3 2084.82L549.7 2118.52H518.9Z"/><path d="M569.5 2064.36L584.9 2098.06H554.1Z"/><path d="M604.7 2043.21L620.1 2076.91H589.3Z"/><path d="M639.9 2021.5L655.3 2055.2H624.5Z"/><path d="M675.1 1999.05L690.5 2032.75H659.7Z"/><path d="M710.3 1975.82L725.7 2009.52H694.9Z"/><path d="M745.5 1952.37L760.9 1986.07H730.1Z"/><path d="M780.7 1928.91L796.1 1962.61H765.3Z"/><path d="M815.9 1905.03L831.3 1938.73H800.5Z"/><path d="M851.1 1880.7L866.5 1914.4H835.7Z"/><path d="M886.3 1856.02L901.7 1889.72H870.9Z"/><path d="M921.5 1831.22L936.9 1864.92H906.1Z"/><path d="M956.7 1806.62L972.1 1840.32H941.3Z"/><path d="M991.9 1781.94L1007.3 1815.64H976.5Z"/><path d="M1027.1 1756.91L1042.5 1790.61H1011.7Z"/><path d="M1062.3 1731.73L1077.7 1765.43H1046.9Z"/><path d="M1097.5 1706.7L1112.9 1740.4H1082.1Z"/><path d="M1132.7 1681.77L1148.1 1715.47H1117.3Z"/><path d="M1167.9 1656.49L1183.3 1690.19H1152.5Z"/><path d="M1203.1 1630.96L1218.5 1664.66H1187.7Z"/><path d="M1238.3 1605.51L1253.7 1639.21H1222.9Z"/><path d="M1273.5 1580.03L1288.9 1613.73H1258.1Z"/><path d="M1308.7 1554.7L1324.1 1588.4H1293.3Z"/>
</g>
<g fill="#0000ff" stroke="none">
<path d="M217.5 2048.4C229.23 2056.24 240.97 2064.08 252.7 2073.7C264.43 2083.32 276.17 2094.71 287.9 2104.6C299.63 2114.49 311.37 2122.87 323.1 2128.8C334.83 2134.73 346.57 2138.2 358.3 2139.1C370.03 2140 381.77 2138.32 393.5 2135.3C405.23 2132.28 416.97 2127.9 428.7 2123.5C440.43 2119.1 452.17 2114.66 463.9 2109.5C475.63 2104.34 487.37 2098.46 499.1 2092.34C510.83 2086.22 522.57 2079.87 534.3 2073.3C546.03 2066.74 557.77 2059.96 569.5 2053.09C581.23 2046.23 592.97 2039.28 604.7 2032.26C616.43 2025.24 628.17 2018.14 639.9 2010.82C651.63 2003.51 663.37 1995.98 675.1 1988.41C686.83 1980.85 698.57 1973.25 710.3 1965.65C722.03 1958.05 733.77 1950.44 745.5 1942.72C757.23 1934.99 768.97 1927.14 780.7 1919.31C792.43 1911.47 804.17 1903.64 815.9 1895.8C827.63 1887.95 839.37 1880.08 851.1 1872.11C862.83 1864.14 874.57 1856.07 886.3 1847.95C898.03 1839.83 909.77 1831.65 921.5 1823.46C933.23 1815.28 944.97 1807.09 956.7 1798.93C968.43 1790.77 980.17 1782.63 991.9 1774.44C1003.63 1766.26 1015.37 1758.03 1027.1 1749.78C1038.83 1741.54 1050.57 1733.27 1062.3 1725.05C1074.03 1716.82 1085.77 1708.63 1097.5 1700.39C1109.23 1692.15 1120.97 1683.85 1132.7 1675.53C1144.43 1667.2 1156.17 1658.85 1167.9 1650.49C1179.63 1642.14 1191.37 1633.78 1203.1 1625.41C1214.83 1617.03 1226.57 1608.64 1238.3 1600.22C1250.03 1591.8 1261.77 1583.36 1273.5 1574.84C1285.23 1566.31 1296.97 1557.71 1308.7 1549.1" fill="none" stroke="#0000ff" stroke-width="3.9" stroke-linejoin="round"/>
<path d="M217.5 2070.8L232.9 2037.1H202.1Z"/><path d="M252.7 2096.1L268.1 2062.4H237.3Z"/><path d="M287.9 2127L303.3 2093.3H272.5Z"/><path d="M323.1 2151.2L338.5 2117.5H307.7Z"/><path d="M358.3 2161.5L373.7 2127.8H342.9Z"/><path d="M393.5 2157.7L408.9 2124H378.1Z"/><path d="M428.7 2145.9L444.1 2112.2H413.3Z"/><path d="M463.9 2131.9L479.3 2098.2H448.5Z"/><path d="M499.1 2114.74L514.5 2081.04H483.7Z"/><path d="M534.3 2095.7L549.7 2062H518.9Z"/><path d="M569.5 2075.49L584.9 2041.79H554.1Z"/><path d="M604.7 2054.66L620.1 2020.96H589.3Z"/><path d="M639.9 2033.22L655.3 1999.52H624.5Z"/><path d="M675.1 2010.81L690.5 1977.11H659.7Z"/><path d="M710.3 1988.05L725.7 1954.35H694.9Z"/><path d="M745.5 1965.12L760.9 1931.42H730.1Z"/><path d="M780.7 1941.71L796.1 1908.01H765.3Z"/><path d="M815.9 1918.2L831.3 1884.5H800.5Z"/><path d="M851.1 1894.51L866.5 1860.81H835.7Z"/><path d="M886.3 1870.35L901.7 1836.65H870.9Z"/><path d="M921.5 1845.86L936.9 1812.16H906.1Z"/><path d="M956.7 1821.33L972.1 1787.63H941.3Z"/><path d="M991.9 1796.84L1007.3 1763.14H976.5Z"/><path d="M1027.1 1772.18L1042.5 1738.48H1011.7Z"/><path d="M1062.3 1747.45L1077.7 1713.75H1046.9Z"/><path d="M1097.5 1722.79L1112.9 1689.09H1082.1Z"/><path d="M1132.7 1697.93L1148.1 1664.23H1117.3Z"/><path d="M1167.9 1672.89L1183.3 1639.19H1152.5Z"/><path d="M1203.1 1647.81L1218.5 1614.11H1187.7Z"/><path d="M1238.3 1622.62L1253.7 1588.92H1222.9Z"/><path d="M1273.5 1597.24L1288.9 1563.54H1258.1Z"/><path d="M1308.7 1571.5L1324.1 1537.8H1293.3Z"/>
</g>
<g fill="#00ffff" stroke="none">
<path d="M217.5 2025.4C229.23 2036.06 240.97 2046.73 252.7 2058.6C264.43 2070.47 276.17 2083.55 287.9 2093C299.63 2102.45 311.37 2108.28 323.1 2111.2C334.83 2114.12 346.57 2114.12 358.3 2112.9C370.03 2111.68 381.77 2109.23 393.5 2105.8C405.23 2102.37 416.97 2097.95 428.7 2093C440.43 2088.05 452.17 2082.57 463.9 2076.9C475.63 2071.23 487.37 2065.38 499.1 2059.29C510.83 2053.2 522.57 2046.86 534.3 2040.43C546.03 2034 557.77 2027.47 569.5 2020.87C581.23 2014.27 592.97 2007.59 604.7 2000.79C616.43 1993.98 628.17 1987.06 639.9 1979.98C651.63 1972.9 663.37 1965.67 675.1 1958.34C686.83 1951.02 698.57 1943.6 710.3 1936.08C722.03 1928.57 733.77 1920.95 745.5 1913.27C757.23 1905.6 768.97 1897.88 780.7 1890.19C792.43 1882.5 804.17 1874.84 815.9 1867.13C827.63 1859.43 839.37 1851.68 851.1 1843.82C862.83 1835.97 874.57 1828.01 886.3 1820.01C898.03 1812.01 909.77 1803.98 921.5 1795.9C933.23 1787.83 944.97 1779.73 956.7 1771.62C968.43 1763.51 980.17 1755.41 991.9 1747.23C1003.63 1739.06 1015.37 1730.83 1027.1 1722.47C1038.83 1714.12 1050.57 1705.65 1062.3 1697.29C1074.03 1688.93 1085.77 1680.68 1097.5 1672.51C1109.23 1664.34 1120.97 1656.25 1132.7 1648.05C1144.43 1639.85 1156.17 1631.54 1167.9 1623.11C1179.63 1614.69 1191.37 1606.15 1203.1 1597.68C1214.83 1589.2 1226.57 1580.79 1238.3 1572.47C1250.03 1564.15 1261.77 1555.92 1273.5 1547.61C1285.23 1539.3 1296.97 1530.9 1308.7 1522.5" fill="none" stroke="#00ffff" stroke-width="3.5" stroke-linejoin="round"/>
<path d="M217.5 2005.1L233.3 2025.4L217.5 2045.7L201.7 2025.4Z"/><path d="M252.7 2038.3L268.5 2058.6L252.7 2078.9L236.9 2058.6Z"/><path d="M287.9 2072.7L303.7 2093L287.9 2113.3L272.1 2093Z"/><path d="M323.1 2090.9L338.9 2111.2L323.1 2131.5L307.3 2111.2Z"/><path d="M358.3 2092.6L374.1 2112.9L358.3 2133.2L342.5 2112.9Z"/><path d="M393.5 2085.5L409.3 2105.8L393.5 2126.1L377.7 2105.8Z"/><path d="M428.7 2072.7L444.5 2093L428.7 2113.3L412.9 2093Z"/><path d="M463.9 2056.6L479.7 2076.9L463.9 2097.2L448.1 2076.9Z"/><path d="M499.1 2038.99L514.9 2059.29L499.1 2079.59L483.3 2059.29Z"/><path d="M534.3 2020.13L550.1 2040.43L534.3 2060.73L518.5 2040.43Z"/><path d="M569.5 2000.57L585.3 2020.87L569.5 2041.17L553.7 2020.87Z"/><path d="M604.7 1980.49L620.5 2000.79L604.7 2021.09L588.9 2000.79Z"/><path d="M639.9 1959.68L655.7 1979.98L639.9 2000.28L624.1 1979.98Z"/><path d="M675.1 1938.04L690.9 1958.34L675.1 1978.64L659.3 1958.34Z"/><path d="M710.3 1915.78L726.1 1936.08L710.3 1956.38L694.5 1936.08Z"/><path d="M745.5 1892.97L761.3 1913.27L745.5 1933.57L729.7 1913.27Z"/><path d="M780.7 1869.89L796.5 1890.19L780.7 1910.49L764.9 1890.19Z"/><path d="M815.9 1846.83L831.7 1867.13L815.9 1887.43L800.1 1867.13Z"/><path d="M851.1 1823.52L866.9 1843.82L851.1 1864.12L835.3 1843.82Z"/><path d="M886.3 1799.71L902.1 1820.01L886.3 1840.31L870.5 1820.01Z"/><path d="M921.5 1775.6L937.3 1795.9L921.5 1816.2L905.7 1795.9Z"/><path d="M956.7 1751.32L972.5 1771.62L956.7 1791.92L940.9 1771.62Z"/><path d="M991.9 1726.93L1007.7 1747.23L991.9 1767.53L976.1 1747.23Z"/><path d="M1027.1 1702.17L1042.9 1722.47L1027.1 1742.77L1011.3 1722.47Z"/><path d="M1062.3 1676.99L1078.1 1697.29L1062.3 1717.59L1046.5 1697.29Z"/><path d="M1097.5 1652.21L1113.3 1672.51L1097.5 1692.81L1081.7 1672.51Z"/><path d="M1132.7 1627.75L1148.5 1648.05L1132.7 1668.35L1116.9 1648.05Z"/><path d="M1167.9 1602.81L1183.7 1623.11L1167.9 1643.41L1152.1 1623.11Z"/><path d="M1203.1 1577.38L1218.9 1597.68L1203.1 1617.98L1187.3 1597.68Z"/><path d="M1238.3 1552.17L1254.1 1572.47L1238.3 1592.77L1222.5 1572.47Z"/><path d="M1273.5 1527.31L1289.3 1547.61L1273.5 1567.91L1257.7 1547.61Z"/><path d="M1308.7 1502.2L1324.5 1522.5L1308.7 1542.8L1292.9 1522.5Z"/>
</g></g>
<rect x="1070.7" y="1973.7" width="235.9" height="357.3" fill="#fff" stroke="#000" stroke-width="2"/>
<g fill="#000000"><rect x="1074.3" y="2011.15" width="92.7" height="4.9"/><rect x="1108.5" y="1999.2" width="23.8" height="28.8"/></g>
<g transform="translate(1177.63,2031.04) scale(0.4229,0.5577)"><text font-size="100" >25</text></g>
<g transform="translate(1234.06,2026.16) scale(0.4344,0.5452)"><text font-size="100" >°</text></g>
<g transform="translate(1250.12,2031.43) scale(0.4446,0.5746)"><text font-size="100" >C</text></g>
<g fill="#ff0000"><rect x="1074.3" y="2083.6" width="92.7" height="4.4"/><ellipse cx="1120.4" cy="2085.8" rx="12.9" ry="16"/></g>
<g transform="translate(1177.62,2103.34) scale(0.4269,0.5577)"><text font-size="100" >50</text></g>
<g transform="translate(1234.06,2098.46) scale(0.4344,0.5452)"><text font-size="100" >°</text></g>
<g transform="translate(1250.12,2103.73) scale(0.4446,0.5746)"><text font-size="100" >C</text></g>
<g fill="#00ff00"><rect x="1074.3" y="2155.65" width="92.7" height="4.9"/><path d="M1120.4 2135.7L1135.8 2169.4H1105Z"/></g>
<g transform="translate(1177.19,2175.63) scale(0.4269,0.5657)"><text font-size="100" >75</text></g>
<g transform="translate(1234.06,2170.76) scale(0.4344,0.5452)"><text font-size="100" >°</text></g>
<g transform="translate(1250.12,2176.03) scale(0.4446,0.5746)"><text font-size="100" >C</text></g>
<g fill="#0000ff"><rect x="1074.3" y="2227.45" width="92.7" height="4.9"/><path d="M1120.4 2252.3L1135.8 2218.6H1105Z"/></g>
<g transform="translate(1176.32,2247.34) scale(0.4306,0.5577)"><text font-size="100" >100</text><rect x="3" y="-13" width="20.2" height="15" fill="#fff"/><rect x="37.2" y="-13" width="18.5" height="15" fill="#fff"/></g>
<g transform="translate(1257.24,2242.94) scale(0.4156,0.5419)"><text font-size="100" >°</text></g>
<g transform="translate(1272.62,2247.73) scale(0.4446,0.5746)"><text font-size="100" >C</text></g>
<g fill="#00ffff"><rect x="1074.3" y="2299.65" width="92.7" height="4.7"/><path d="M1120.4 2281.7L1136.2 2302L1120.4 2322.3L1104.6 2302Z"/></g>
<g transform="translate(1176.32,2319.34) scale(0.4306,0.5577)"><text font-size="100" >150</text><rect x="3" y="-13" width="20.2" height="15" fill="#fff"/><rect x="37.2" y="-13" width="18.5" height="15" fill="#fff"/></g>
<g transform="translate(1257.24,2314.94) scale(0.4156,0.5419)"><text font-size="100" >°</text></g>
<g transform="translate(1272.62,2319.73) scale(0.4446,0.5746)"><text font-size="100" >C</text></g>
<g><rect x="210" y="1289.6" width="1111.6" height="6.2" rx="2"/><rect x="1313.2" y="1290" width="6" height="1057"/><path d="M1314.5 1290 L1315.5 1288.2 L1316.5 1290Z"/></g>
<g transform="translate(188.19,2419.94) scale(0.4275,0.5592)"><text font-size="100" >0.0</text></g>
<g transform="translate(298.13,2419.94) scale(0.4242,0.5592)"><text font-size="100" >0.5</text></g>
<g transform="translate(407.7,2419.94) scale(0.4264,0.5592)"><text font-size="100" >1.0</text><rect x="3" y="-13" width="20.2" height="15" fill="#fff"/><rect x="37.2" y="-13" width="18.5" height="15" fill="#fff"/></g>
<g transform="translate(517.65,2419.93) scale(0.4231,0.5671)"><text font-size="100" >1.5</text><rect x="3" y="-13" width="20.2" height="15" fill="#fff"/><rect x="37.2" y="-13" width="18.5" height="15" fill="#fff"/></g>
<g transform="translate(628.35,2419.94) scale(0.4242,0.5592)"><text font-size="100" >2.0</text></g>
<g transform="translate(738.29,2419.94) scale(0.4211,0.5592)"><text font-size="100" >2.5</text></g>
<g transform="translate(848.64,2419.94) scale(0.4211,0.5592)"><text font-size="100" >3.0</text></g>
<g transform="translate(958.57,2419.94) scale(0.4179,0.5592)"><text font-size="100" >3.5</text></g>
<g transform="translate(1068.5,2419.94) scale(0.4211,0.5592)"><text font-size="100" >4.0</text></g>
<g transform="translate(1178.43,2419.93) scale(0.4179,0.5671)"><text font-size="100" >4.5</text></g>
<g transform="translate(1287.93,2419.94) scale(0.4242,0.5592)"><text font-size="100" >5.0</text></g>
<g transform="translate(131.69,2358.75) scale(0.4275,0.5549)"><text font-size="100" >0.6</text></g>
<g transform="translate(131.7,2149.55) scale(0.4242,0.5549)"><text font-size="100" >0.8</text></g>
<g transform="translate(131.42,1940.35) scale(0.4295,0.5549)"><text font-size="100" >1.0</text><rect x="3" y="-13" width="20.2" height="15" fill="#fff"/><rect x="37.2" y="-13" width="18.5" height="15" fill="#fff"/></g>
<g transform="translate(131.42,1731.7) scale(0.4295,0.5629)"><text font-size="100" >1.2</text><rect x="3" y="-13" width="20.2" height="15" fill="#fff"/><rect x="37.2" y="-13" width="18.5" height="15" fill="#fff"/></g>
<g transform="translate(131.5,1522.5) scale(0.4165,0.5710)"><text font-size="100" >1.4</text><rect x="3" y="-13" width="20.2" height="15" fill="#fff"/><rect x="37.2" y="-13" width="18.5" height="15" fill="#fff"/></g>
<g transform="translate(131.42,1312.75) scale(0.4295,0.5549)"><text font-size="100" >1.6</text><rect x="3" y="-13" width="20.2" height="15" fill="#fff"/><rect x="37.2" y="-13" width="18.5" height="15" fill="#fff"/></g>
<g transform="translate(263.65,1404) scale(0.5302,0.6991)"><text font-size="100" >(b) Device- B</text></g>
<g transform="translate(698.46,2481.8) scale(0.4367,0.5654)"><text font-size="100" >Voltage</text></g>
<g transform="translate(93.2,1810.53) rotate(-90) scale(0.3900,0.5262)"><text font-size="100" dx="0 0 -11.4 8.8 19.3">F (V)</text></g>
</svg>
</body></html>
